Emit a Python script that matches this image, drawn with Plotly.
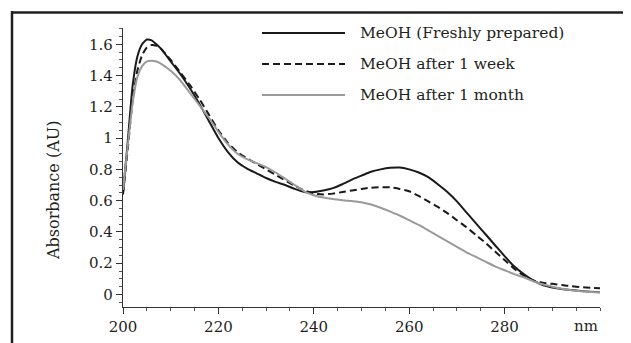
import plotly.graph_objects as go

wavelength = [200, 201, 202, 203, 204, 205, 206, 207, 208, 210, 212, 214, 216, 218,
              220, 222, 224, 226, 228, 230, 232, 234, 236, 238, 240, 242, 244, 246,
              248, 250, 252, 254, 256, 258, 260, 262, 264, 266, 268, 270, 272, 274,
              276, 278, 280, 282, 284, 286, 288, 290, 292, 294, 296, 298, 300]

fresh = [0.65, 0.98, 1.33, 1.52, 1.60, 1.63, 1.625, 1.60, 1.57, 1.49, 1.41, 1.32, 1.22, 1.11,
         1.00, 0.91, 0.845, 0.805, 0.775, 0.745, 0.72, 0.70, 0.675, 0.655, 0.655, 0.665, 0.68, 0.705,
         0.735, 0.76, 0.785, 0.80, 0.81, 0.812, 0.80, 0.78, 0.75, 0.705, 0.655, 0.595, 0.525, 0.455,
         0.385, 0.315, 0.245, 0.18, 0.13, 0.09, 0.06, 0.045, 0.035, 0.028, 0.022, 0.018, 0.015]

week = [0.64, 0.93, 1.24, 1.43, 1.53, 1.58, 1.595, 1.59, 1.57, 1.50, 1.42, 1.34, 1.25, 1.15,
        1.05, 0.97, 0.91, 0.87, 0.835, 0.80, 0.765, 0.73, 0.695, 0.665, 0.645, 0.64, 0.645, 0.655,
        0.665, 0.675, 0.683, 0.686, 0.685, 0.675, 0.66, 0.63, 0.595, 0.56, 0.52, 0.475, 0.43, 0.38,
        0.33, 0.275, 0.22, 0.165, 0.12, 0.09, 0.075, 0.068, 0.06, 0.053, 0.047, 0.043, 0.04]

month = [0.67, 0.95, 1.22, 1.39, 1.46, 1.49, 1.495, 1.49, 1.475, 1.43, 1.37, 1.29, 1.21, 1.13,
         1.04, 0.96, 0.90, 0.865, 0.84, 0.815, 0.78, 0.74, 0.70, 0.66, 0.635, 0.62, 0.61, 0.603,
         0.597, 0.59, 0.575, 0.555, 0.53, 0.505, 0.475, 0.445, 0.41, 0.375, 0.34, 0.305, 0.27, 0.24,
         0.21, 0.18, 0.155, 0.13, 0.11, 0.085, 0.065, 0.05, 0.037, 0.027, 0.02, 0.016, 0.014]

series_names = ["MeOH (Freshly prepared)", "MeOH after 1 week", "MeOH after 1 month"]
x_tick_vals = [200, 220, 240, 260, 280]
y_tick_vals = [0, 0.2, 0.4, 0.6, 0.8, 1.0, 1.2, 1.4, 1.6]
x_unit_label = "nm"
y_title = "Absorbance (AU)"

FONT = "DejaVu Serif"
TXT = "#231f20"
styles = [
    dict(color="#1a1a1a", width=2, dash="solid"),
    dict(color="#1a1a1a", width=2, dash="7px,4px"),
    dict(color="#9a9a9a", width=2, dash="solid"),
]

fig = go.Figure()
for name, ys, st in zip(series_names, [fresh, week, month], styles):
    fig.add_trace(go.Scatter(x=wavelength, y=ys, mode="lines", name=name,
                             line=dict(color=st["color"], width=st["width"], dash=st["dash"],
                                       shape="spline", smoothing=0.5),
                             showlegend=False))

# the page body has an 8px default margin; work in screen pixels and compensate
OFF = 8
W, H = 631, 343
L = 123 - OFF
T = 28 - OFF
R = W - (600 - OFF)
B = H - (307 - OFF)
pw, ph = W - L - R, H - T - B

def px2x(sx):
    return (sx - OFF - L) / pw

def py2y(sy):
    return (H - B - (sy - OFF)) / ph

shapes = []
annotations = []
# outer frame (left and top borders)
shapes.append(dict(type="line", xref="paper", yref="paper", x0=px2x(12), x1=px2x(12),
                   y0=py2y(11), y1=py2y(350), line=dict(color=TXT, width=2.5)))
shapes.append(dict(type="line", xref="paper", yref="paper", x0=px2x(11), x1=px2x(640),
                   y0=py2y(12.5), y1=py2y(12.5), line=dict(color=TXT, width=2.5)))

# custom legend
rows = [33, 64, 95]
for name, st, ry in zip(series_names, styles, rows):
    shapes.append(dict(type="line", xref="paper", yref="paper", x0=px2x(262), x1=px2x(345),
                       y0=py2y(ry), y1=py2y(ry),
                       line=dict(color=st["color"], width=st["width"], dash=st["dash"])))
    annotations.append(dict(xref="paper", yref="paper", x=px2x(358), y=py2y(ry),
                            xanchor="left", yanchor="middle", showarrow=False, text=name,
                            font=dict(family=FONT, size=15.5, color=TXT)))

# unit label at the end of x axis
annotations.append(dict(xref="x", yref="paper", x=300, y=py2y(315), xanchor="right", yanchor="top",
                        showarrow=False, text=x_unit_label, font=dict(family=FONT, size=15, color=TXT)))
# y axis title
annotations.append(dict(xref="paper", yref="paper", x=px2x(53), y=py2y(191), xanchor="center",
                        yanchor="middle", showarrow=False, text=y_title, textangle=-90,
                        font=dict(family=FONT, size=16, color=TXT)))

fig.update_layout(
    width=W, height=H,
    margin=dict(l=L, r=R, t=T, b=B, pad=0),
    paper_bgcolor="white", plot_bgcolor="white",
    font=dict(family=FONT, size=15, color=TXT),
    shapes=shapes, annotations=annotations,
)
fig.update_xaxes(range=[200, 300], tickvals=x_tick_vals, showgrid=False, zeroline=False,
                 showline=True, linecolor="#333333", linewidth=1.3, automargin=False,
                 ticks="outside", ticklen=6, tickwidth=1.2, tickcolor="#333333",
                 minor=dict(dtick=5, tick0=200, ticks="outside", ticklen=3, tickwidth=1, tickcolor="#555555"),
                 tickfont=dict(family=FONT, size=15, color=TXT))
fig.update_yaxes(range=[-0.08, 1.704], tickvals=y_tick_vals, showgrid=False, zeroline=False,
                 showline=True, linecolor="#333333", linewidth=1.3, automargin=False,
                 ticks="outside", ticklen=6, tickwidth=1.2, tickcolor="#333333",
                 minor=dict(dtick=0.05, tick0=0, ticks="outside", ticklen=3, tickwidth=1, tickcolor="#555555"),
                 tickfont=dict(family=FONT, size=15, color=TXT))

fig.write_html("out.html")
